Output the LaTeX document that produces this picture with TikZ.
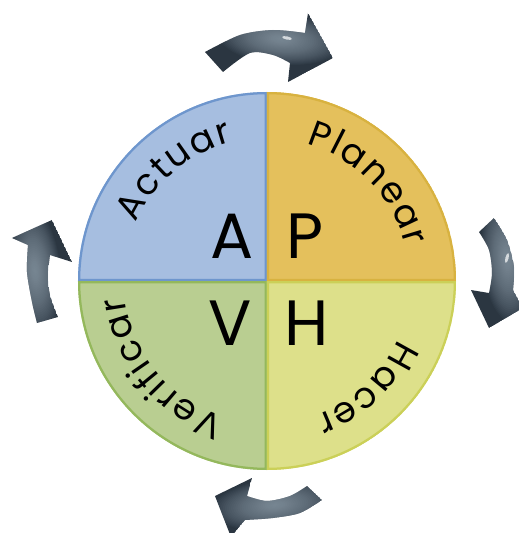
\documentclass[tikz,border=0pt]{standalone}
\usepackage{fontspec}
\setmainfont{Poppins}
\usetikzlibrary{decorations.text}

\definecolor{actfill}{HTML}{A6BEE0}
\definecolor{actline}{HTML}{6E96CD}
\definecolor{planfill}{HTML}{E4C05C}
\definecolor{planline}{HTML}{D8B240}
\definecolor{verfill}{HTML}{B9CE91}
\definecolor{verline}{HTML}{94B85C}
\definecolor{hacfill}{HTML}{DDE08A}
\definecolor{hacline}{HTML}{CBD058}
\definecolor{arrowdark}{HTML}{2B3641}
\definecolor{arrowlight}{HTML}{9EAEBA}

% one quarter of the disc: start angle, fill colour, rim colour
\newcommand\drawquarter[3]{%
  \begin{scope}
    \clip (0,0) -- (#1:189) arc[start angle=#1, delta angle=90, radius=189pt] -- cycle;
    \fill[#2] (0,0) -- (#1:189) arc[start angle=#1, delta angle=90, radius=189pt] -- cycle;
    \draw[#3, line width=4.5pt] (0,0) -- (#1:189) arc[start angle=#1, delta angle=90, radius=189pt] -- cycle;
  \end{scope}}

% a dark arrow with a soft sheen: outline, centre of the sheen, its tilt
\newcommand\shinyarrow[3]{%
  \begin{scope}
    \clip #1;
    \fill[arrowdark] #1;
    \foreach \s in {30,29,...,1}
      \fill[arrowlight, opacity=0.045, rotate around={#3:#2}] #2
        ellipse[x radius=\s*2.1pt, y radius=\s*0.85pt];
  \end{scope}}

\begin{document}
\begin{tikzpicture}[x=1pt, y=1pt,
    bigletter/.style={font=\fontsize{64}{64}\selectfont, text=black, inner sep=0pt},
    arcglyph/.style={font=\fontsize{36}{36}\selectfont},
    arcword/.style={decorate, decoration={text effects along path, text={#1}, text align=center,
      text effects/.cd, text along path, characters={arcglyph, text=black},
      character widths={arcglyph, inner xsep=1pt}}},
    gloss/.style={fill=white, opacity=0.7}]
  \useasboundingbox (-267,-252) rectangle (252,281);

  % the four quarters of the cycle
  \drawquarter{90}{actfill}{actline}
  \drawquarter{0}{planfill}{planline}
  \drawquarter{180}{verfill}{verline}
  \drawquarter{270}{hacfill}{hacline}

  % phase names set along the rim
  \path[arcword={Actuar}]
    (180:143) arc[start angle=180, end angle=80, radius=143pt];
  \path[arcword={Planear}]
    (94:143) arc[start angle=94, end angle=-6, radius=143pt];
  \path[arcword={Hacer}]
    (3:143) arc[start angle=3, end angle=-97, radius=143pt];
  \path[arcword={Verificar}]
    (275:143) arc[start angle=275, end angle=164, radius=143pt];

  % initials in the middle
  \node[bigletter] (A) at (-35,45) {A};
  \node[bigletter] (P) at (38,45) {P};
  \node[bigletter] (V) at (-37,-42) {V};
  \node[bigletter] (H) at (40,-42) {H};

  % curved arrows running clockwise round the disc
  \shinyarrow{(-62,229) -- plot[smooth] coordinates {(-62,229) (-27,246) (6,251) (38,248)}
    -- (41,268) -- (66,223) -- (21,199)
    -- plot[smooth] coordinates {(23,218) (6,226) (-17,228) (-44,209)} -- cycle}{(14,242)}{-5}
  \shinyarrow{(212,49) -- (227,63) -- plot[smooth] coordinates {(227,63) (240,41) (247,14) (246,-9)}
    -- (256,-27) -- (222,-47) -- (204,-9)
    -- plot[smooth] coordinates {(222,-12) (225,8) (222,31) (212,49)} -- cycle}{(240,22)}{95}
  \shinyarrow{(40,-205) -- (55,-219) -- plot[smooth] coordinates {(55,-219) (33,-232) (6,-237) (-22,-239)}
    -- (-36,-256) -- (-52,-215) -- (-15,-197)
    -- plot[smooth] coordinates {(-20,-215) (0,-220) (23,-215) (40,-205)} -- cycle}{(8,-224)}{5}
  \shinyarrow{(-230,-42) -- plot[smooth] coordinates {(-230,-42) (-235,-21) (-240,9) (-239,36)}
    -- (-255,43) -- (-215,61) -- (-195,19)
    -- plot[smooth] coordinates {(-217,26) (-219,6) (-217,-14) (-209,-36)} -- cycle}{(-232,10)}{95}

  % small specular spots
  \fill[gloss, rotate around={-12:(20,243)}] (20,243) ellipse[x radius=5pt, y radius=1.6pt];
  \fill[gloss, rotate around={-15:(240,23)}] (240,23) ellipse[x radius=1.6pt, y radius=5pt];
\end{tikzpicture}
\end{document}
